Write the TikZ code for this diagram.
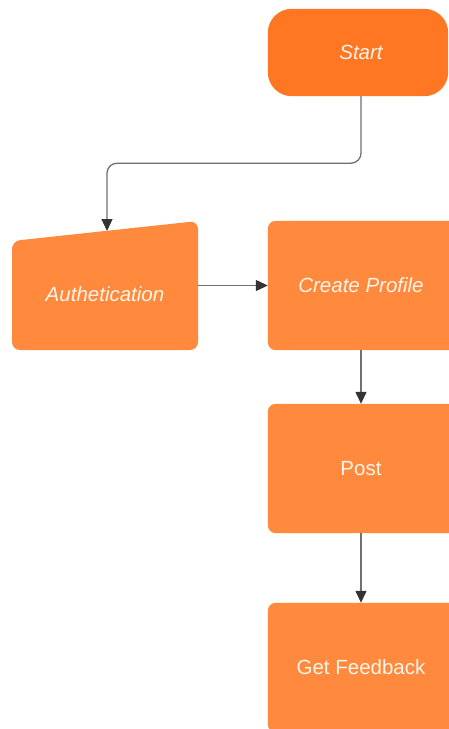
\documentclass[tikz,border=0pt]{standalone}
\usepackage{fontspec}
\setmainfont{Liberation Sans}
\usetikzlibrary{arrows.meta,backgrounds}
\definecolor{startorange}{HTML}{FF7722}
\definecolor{boxorange}{HTML}{FF8A3D}
\definecolor{labelwhite}{HTML}{FFF4EA}
\definecolor{linegray}{HTML}{707070}
\definecolor{tipgray}{HTML}{333333}
\tikzset{
  boxtext/.style={text=labelwhite, font=\fontsize{20.5}{24}\selectfont},
  stepbox/.style={boxtext, minimum width=186pt, minimum height=129pt, inner sep=0pt},
  startbox/.style={boxtext, minimum width=186pt, minimum height=87pt, inner sep=0pt},
  hiddenbox/.style={minimum width=186pt, minimum height=128pt, inner sep=0pt},
  stepfill/.style={fill=boxorange, rounded corners=8pt},
  conn/.style={draw=linegray, line width=1.3pt,
    -{Triangle[length=12pt,width=11pt,color=tipgray,fill=tipgray]}},
}
\begin{document}
\begin{tikzpicture}[x=1pt, y=-1pt]
  \useasboundingbox (0,0) rectangle (448,729);
  \clip (0,0) rectangle (448,729);

  % terminator
  \node[startbox] (start) at (361,52.5) {\itshape Start};

  % manual-input shape with slanted top
  \node[hiddenbox] (auth) at (105,285.5) {};
  \node[boxtext] (authtext) at (105,294) {\itshape Authetication};
  \coordinate (authtop) at (107,231);

  % process steps
  \node[stepbox] (create) at (361,285.5) {\itshape Create Profile};
  \node[stepbox] (post) at (361,468.5) {Post};
  \node[stepbox] (feedback) at (361,667.5) {Get Feedback};

  % shape fills, behind the labels; the right-hand boxes run past the page edge
  \begin{scope}[on background layer]
    \fill[white] (0,0) rectangle (448,729);
    \fill[startorange, rounded corners=24pt]
      (start.north west) rectangle ([xshift=-6pt]start.south east);
    \fill[stepfill]
      (12,350) -- (12,241) -- (198,221) -- (198,350) -- cycle;
    \foreach \b in {create,post,feedback}
      \fill[stepfill] (\b.north west) rectangle ([xshift=30pt]\b.south east);
  \end{scope}

  % connectors
  \draw[conn, rounded corners=10pt] (start.south) -- ++(0,67) -| (authtop);
  \draw[conn] (auth.east) -- (create.west);
  \draw[conn] (create.south) -- (post.north);
  \draw[conn] (post.south) -- (feedback.north);
\end{tikzpicture}
\end{document}
